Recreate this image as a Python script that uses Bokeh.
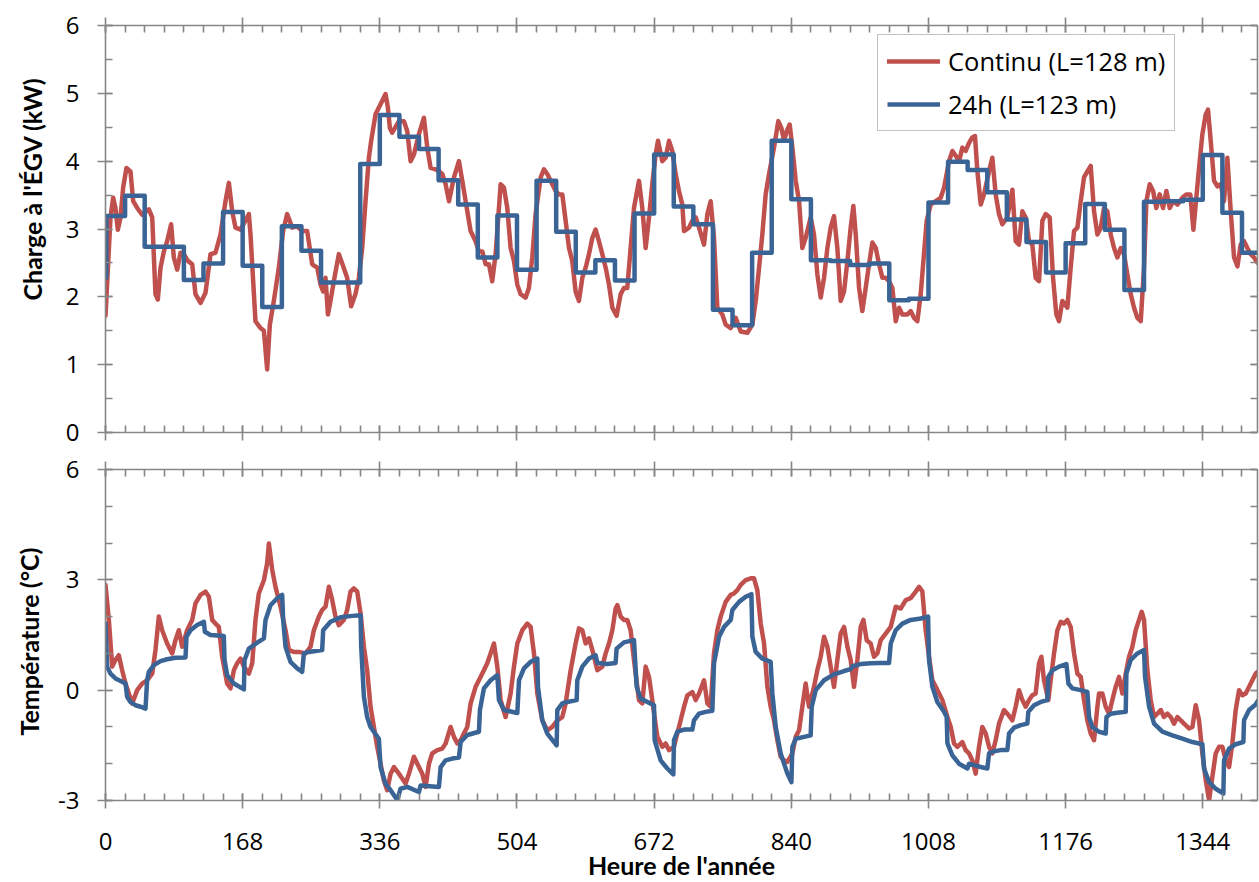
import math
from bokeh.plotting import figure
from bokeh.models import FixedTicker, LinearAxis, Range1d, Legend, LegendItem, Title
from bokeh.layouts import column
from bokeh.embed import file_html
from bokeh.resources import INLINE

# ---------------- data ----------------
x_major_ticks = [0, 168, 336, 504, 672, 840, 1008, 1176, 1344]
load_major_ticks = [0, 1, 2, 3, 4, 5, 6]
temp_major_ticks = [-3, 0, 3, 6]
temp_tick_labels = {-3: "-3", 0: "0", 3: "3", 6: "6"}

# Top panel: hourly load, continuous operation (red)
load_red_h = [0, 6.1, 9.4, 12.2, 15.1, 18.4, 21.6, 25.7, 30.6, 33.9, 38.8, 44.9, 53.1, 57.2, 61.2, 64.1, 67.4, 71.5, 75.5, 80.4,
              83.7, 87.8, 91.9, 96.0, 100.9, 106.2, 110.2, 116.4, 122.5, 128.6, 134.7, 140.9, 147.0, 151.1, 155.2, 159.2, 165.4,
              175.6, 177.6, 183.7, 189.9, 194.0, 198.0, 201.3, 206.2, 212.3, 217.6, 222.5, 228.7, 234.8, 240.9, 247.0, 253.2,
              259.3, 263.4, 266.6, 269.5, 272.4, 275.6, 279.7, 285.8, 291.1, 296.0, 300.9, 306.2, 310.3, 314.4, 318.5, 322.6,
              325.4, 330.7, 336.9, 343.0, 345.9, 348.3,
              351.2, 359.4, 365.5, 369.6, 373.7, 377.8, 383.9, 390.0, 394.1, 398.2, 404.3, 408.4, 412.5, 416.6, 420.7, 426.8,
              432.9, 437.0, 441.1, 447.2, 453.3, 457.4, 461.5, 465.6, 469.7, 473.7, 477.8, 484.0, 488.0, 492.1, 496.2, 500.3,
              504.4, 508.4, 514.6, 518.6, 522.7, 526.8, 533.0, 537.0, 541.1, 545.2, 551.3, 555.4, 559.5, 563.6, 567.7, 571.7,
              575.8, 579.9, 584.0, 588.1, 592.2, 596.3, 600.3, 604.4, 608.5, 612.6, 616.7, 620.8, 626.0, 631.0, 635.0, 639.1,
              643.2, 647.3, 653.4, 657.5, 661.6, 665.7, 669.7, 673.8, 676.7, 682.0, 686.1, 690.2, 694.2, 698.3, 702.4,
              706.5, 708.6, 714.7, 718.8, 722.9, 727.0, 733.1, 737.2, 741.2, 745.3, 749.4, 755.5, 759.6, 765.8, 771.9, 778.0,
              786.2, 792.3, 796.4, 800.5, 804.5, 808.6, 812.7, 818.8, 824.1, 827.8, 831.1, 834.3, 838.0, 841.3, 845.4, 849.5,
              853.5, 857.6, 863.7, 867.8, 871.9, 876.0, 880.1, 884.2, 888.2, 892.3, 896.4, 900.5, 904.6, 908.7, 912.7, 916.0,
              918.9, 923.0, 927.0, 931.1, 935.2, 939.3, 943.4, 947.5, 951.5, 955.6, 959.7, 963.8, 967.9, 972.0, 976.0, 982.2,
              986.2, 990.3, 994.4, 998.5, 1001.8, 1005.8, 1010.7, 1016.9, 1023.0, 1027.1, 1033.2, 1037.3, 1041.4, 1045.5,
              1049.5, 1053.6, 1057.7, 1061.7, 1065.0, 1067.9, 1072.0, 1076.0, 1082.2, 1086.2, 1090.3, 1094.4, 1098.5, 1104.6,
              1110.8, 1114.8, 1118.9, 1123.0, 1127.1, 1131.2, 1135.2, 1139.3, 1143.4, 1147.5, 1151.6, 1156.5, 1160.6, 1164.6,
              1167.9, 1172.0, 1178.1, 1182.2, 1186.3, 1190.4, 1194.5, 1198.5, 1202.6, 1206.7, 1210.8, 1214.9, 1219.0, 1223.0,
              1227.1, 1231.2, 1235.3, 1239.4, 1243.5, 1247.5, 1251.6, 1255.7, 1259.8, 1263.9, 1268.0, 1272.0, 1274.9, 1279.0,
              1283.1, 1287.1, 1291.2, 1295.3, 1299.4, 1303.5, 1307.6, 1312.9, 1319.0, 1323.8, 1328.7, 1332.5, 1335.3, 1339.4,
              1343.5, 1347.6, 1350.4, 1353.7, 1357.8, 1361.9, 1366.0, 1370.0, 1374.1, 1378.2, 1382.3, 1386.4, 1390.4, 1394.5,
              1398.6, 1402.7, 1406.8, 1411.0]
load_red_kw = [1.72, 3.17, 3.46, 3.31, 2.99, 3.17, 3.61, 3.90, 3.85, 3.41, 3.31, 3.21, 3.29, 3.17, 2.04, 1.96, 2.43, 2.67, 2.82, 3.07,
               2.58, 2.40, 2.65, 2.63, 2.53, 2.48, 2.04, 1.91, 2.06, 2.63, 2.65, 2.92, 3.41, 3.68, 3.26, 3.02, 2.99,
               3.22, 2.92, 1.64, 1.54, 1.50, 0.93, 1.59, 1.94, 2.43, 2.97, 3.22, 3.02, 3.04, 2.97, 2.97, 2.48,
               2.43, 2.18, 2.08, 2.28, 1.74, 1.94, 2.23, 2.63, 2.45, 2.28, 1.86, 2.04, 2.28, 2.72, 3.41, 4.05,
               4.30, 4.69, 4.84, 4.99, 4.79, 4.49,
               4.42, 4.59, 4.59, 4.44, 4.00, 4.10, 4.40, 4.64, 4.20, 3.90, 3.88, 3.85, 3.81, 3.66, 3.41, 3.76,
               4.00, 3.71, 3.41, 2.97, 2.82, 2.67, 2.67, 2.48, 2.48, 2.23, 2.63, 3.66, 3.61, 3.31, 2.72, 2.53,
               2.18, 2.04, 1.99, 2.13, 2.58, 3.22, 3.76, 3.88, 3.81, 3.71, 3.56, 3.51, 3.51, 3.12, 2.72, 2.53,
               2.08, 1.94, 2.28, 2.43, 2.63, 2.87, 2.99, 2.82, 2.63, 2.43, 2.18, 1.84, 1.72, 2.04, 2.13, 2.13,
               2.72, 3.31, 3.71, 3.31, 2.72, 3.17, 3.66, 4.10, 4.30, 4.00, 4.05, 4.30, 4.15, 3.81, 3.56,
               3.36, 2.97, 3.02, 3.12, 3.17, 3.02, 2.77, 3.22, 3.41, 2.87, 1.84, 1.74, 1.59, 1.54, 1.69, 1.49,
               1.47, 1.59, 1.94, 2.43, 2.92, 3.51, 3.81, 4.20, 4.59, 4.49, 4.30, 4.44, 4.54, 4.20, 3.71, 3.41,
               2.72, 2.87, 3.17, 2.92, 2.33, 1.99, 2.28, 2.72, 3.02, 3.19, 2.72, 1.94, 2.08, 2.53, 3.02, 3.34,
               2.92, 2.13, 1.79, 2.13, 2.48, 2.80, 2.72, 2.48, 2.28, 2.28, 2.23, 2.13, 1.64, 1.84, 1.74, 1.74,
               1.79, 1.69, 1.64, 2.04, 2.53, 3.12, 3.36, 3.41, 3.46, 3.61, 4.00, 4.15, 4.08, 4.00,
               4.20, 4.15, 4.27, 4.35, 4.37, 3.85, 3.36, 3.51, 3.85, 4.05, 3.51, 3.22, 3.07, 3.17,
               3.58, 2.82, 2.77, 3.26, 3.17, 2.82, 2.77, 2.28, 2.23, 3.12, 3.22, 3.17, 2.28, 1.74,
               1.64, 1.94, 1.84, 2.43, 2.97, 3.02, 3.41, 3.76, 3.85, 3.93, 3.26, 2.92, 3.02, 3.31,
               3.26, 2.92, 2.72, 2.58, 2.72, 2.63, 2.33, 2.04, 1.84, 1.69, 1.64, 2.43, 3.41, 3.66,
               3.56, 3.31, 3.51, 3.31, 3.56, 3.31, 3.41, 3.36, 3.46, 3.51, 3.51, 2.99, 3.36, 3.90,
               4.40, 4.69, 4.76, 4.30, 3.71, 3.63, 3.66, 3.41, 4.05, 3.26, 2.58, 2.45, 2.77, 2.82,
               2.72, 2.63, 2.58, 2.50]

# Top panel: daily (24h) load (blue), one value per day, plus the first hour
load_blue_first_kw = 2.28
load_blue_daily_kw = [3.19, 3.49, 2.74, 2.74, 2.25, 2.49, 3.25, 2.46, 1.85, 3.04,
                      2.68, 2.21, 2.21, 3.96, 4.68, 4.36, 4.18, 3.72, 3.36, 2.58,
                      3.20, 2.40, 3.71, 2.96, 2.36, 2.54, 2.24, 3.23, 4.10, 3.33,
                      3.07, 1.81, 1.58, 2.65, 4.30, 3.44, 2.54, 2.53, 2.47, 2.49,
                      1.95, 1.97, 3.39, 3.99, 3.87, 3.54, 3.14, 2.81, 2.36, 2.79,
                      3.37, 2.99, 2.10, 3.40, 3.41, 3.43, 4.09, 3.24, 2.65]

# Bottom panel: temperature, continuous (red)
temp_red_h = [0, 4.1, 8.2, 12.2, 16.3, 20.4, 24.5, 28.6, 32.7, 38.8, 44.9, 51.0, 57.2, 61.2, 65.3, 69.4, 75.5, 81.7, 85.7, 89.8,
              93.9, 100.0, 106.2, 110.2, 116.4, 122.5, 126.6, 130.7, 134.7, 138.8, 142.9, 149.0, 153.1, 157.2, 161.3, 165.4,
              169.5, 175.6, 179.7, 183.7, 187.8, 194.0, 198.0, 200.1, 204.2, 208.2, 214.4, 220.5, 224.6, 230.7, 236.8, 245.0,
              251.1, 255.2, 261.3, 265.4, 269.5, 273.6, 277.7, 281.7, 285.8, 292.0, 296.0, 300.1, 304.2, 308.3, 312.4, 316.5,
              320.5, 324.6, 328.7, 332.8, 336.9, 340.9, 345.0,
              349.2, 353.3, 359.4, 367.6, 371.7, 377.8, 381.9, 388.0, 392.1, 396.2, 400.2, 406.4, 412.5, 416.6, 422.7, 426.8,
              430.9, 435.0, 439.0, 443.1, 447.2, 453.3, 457.4, 463.5, 467.6, 471.7, 475.8, 479.9, 484.0, 490.1, 496.2, 500.3,
              504.4, 510.5, 516.6, 520.7, 524.8, 528.9, 535.0, 541.1, 547.2, 553.4, 559.5, 563.6, 569.7, 575.8, 579.9, 584.0,
              588.1, 592.2, 596.3, 602.4, 608.5, 612.6, 616.7, 620.8, 624.8, 626.9, 631.0, 635.0, 639.1, 643.2, 647.3, 653.4,
              657.5, 661.6, 665.7, 669.7, 675.9, 682.0, 686.1, 690.2, 696.3, 702.4,
              708.6, 712.7, 718.8, 722.9, 727.0, 733.1, 737.2, 741.2, 745.3, 749.4, 753.5, 759.6, 765.8, 769.8, 773.9, 778.0,
              784.1, 790.3, 794.3, 798.4, 802.5, 806.6, 810.7, 814.7, 818.8, 822.9, 827.0, 831.1, 835.2, 841.3, 845.4, 849.5,
              853.5, 857.6, 861.7, 867.8, 871.9, 876.0, 880.1, 884.2, 888.2, 892.3, 896.4, 900.5, 904.6, 908.7, 912.7, 916.8,
              920.9, 925.0, 928.3, 932.3, 937.2, 941.3, 945.4, 949.5, 955.6, 961.8, 967.9, 974.0, 980.1, 986.2, 992.4, 996.5,
              1000.5, 1004.6, 1008.7, 1012.8, 1016.9, 1021.0, 1025.0, 1031.2, 1035.3, 1039.3, 1043.4,
              1049.5, 1053.6, 1057.7, 1061.8, 1065.8, 1069.9, 1074.0, 1078.1, 1082.2, 1086.2, 1090.3, 1094.4, 1100.5, 1104.6,
              1110.8, 1114.8, 1118.9, 1123.0, 1127.1, 1131.2, 1135.2, 1139.3, 1143.4, 1146.3, 1149.5, 1154.8, 1157.7, 1161.8,
              1165.9, 1170.0, 1174.0, 1178.1, 1182.2, 1186.3, 1190.4, 1194.5, 1198.5, 1202.6, 1206.7, 1210.8, 1214.9, 1216.9,
              1221.0, 1225.1, 1229.2, 1233.2, 1237.3, 1241.4, 1245.5, 1249.6, 1253.7, 1257.7, 1261.8, 1265.9, 1269.2, 1272.0,
              1276.1, 1280.2, 1284.3, 1288.4, 1292.5, 1296.5, 1300.6, 1304.7, 1308.8, 1312.9, 1317.0, 1321.0, 1327.2, 1331.3,
              1335.3, 1339.4, 1343.5, 1347.6, 1351.7, 1355.7, 1359.8, 1363.9, 1368.0, 1372.1, 1376.2, 1380.2, 1384.3, 1388.4,
              1392.5, 1396.6, 1400.7, 1404.7, 1408.8, 1411.0]
temp_red_c = [2.86, 1.91, 0.64, 0.82, 0.95, 0.54, 0.18, -0.09, -0.36, 0.00, 0.18, 0.27, 0.45, 1.09, 2.00, 1.63, 1.27, 1.00, 1.36, 1.63,
              1.18, 1.63, 1.91, 2.36, 2.59, 2.68, 2.54, 1.91, 1.81, 1.72, 0.91, 0.18, 0.05, 0.54, 0.73, 0.86,
              0.64, 0.45, 0.73, 1.91, 2.63, 2.99, 3.45, 3.99, 3.27, 2.81, 2.27, 1.63, 1.09, 1.04, 1.04, 1.00,
              1.18, 1.63, 2.00, 2.18, 2.27, 2.81, 2.45, 2.00, 1.77, 1.91, 2.18, 2.68, 2.77, 2.68, 2.09, 1.18,
              0.54, -0.45, -1.00, -1.54, -2.00, -2.45, -2.72,
              -2.27, -2.09, -2.27, -2.54, -2.27, -1.81, -2.00, -2.27, -2.63, -2.00, -1.72, -1.63, -1.59, -1.45, -1.00, -1.27,
              -1.45, -1.36, -1.18, -1.00, -0.36, 0.09, 0.27, 0.54, 0.73, 1.00, 1.27, 0.64, -0.27, -0.73, -0.09, 0.64,
              1.27, 1.63, 1.81, 1.72, 1.00, -0.09, -0.82, -1.09, -1.00, -0.82, -0.73, -0.36, 0.54, 1.27, 1.68, 1.63,
              1.27, 1.41, 1.09, 0.54, 0.64, 1.00, 1.27, 1.63, 2.22, 2.31, 2.00, 1.91, 1.91, 1.63, 0.82, -0.27,
              -0.36, 0.64, 0.36, -0.27, -1.27, -1.54, -1.45, -1.63, -1.54, -1.00,
              -0.45, -0.14, -0.05, -0.27, -0.09, 0.27, -0.36, -0.45, 1.00, 1.63, 2.00, 2.40, 2.59, 2.63, 2.72, 2.86,
              2.99, 3.04, 3.04, 2.72, 1.81, 1.27, 0.09, -0.45, -0.82, -1.36, -1.81, -1.91, -1.95, -1.72, -1.27, -1.09,
              -0.45, 0.18, -0.45, 0.09, 0.54, 0.91, 1.45, 1.18, 0.64, 0.09, 0.82, 1.54, 1.72, 1.18, 0.82, 0.09,
              0.82, 1.72, 1.91, 1.36, 1.27, 0.91, 1.00, 1.36, 1.54, 1.72, 2.27, 2.22, 2.45, 2.50, 2.68, 2.81,
              2.68, 1.63, 0.91, 0.27, 0.09, -0.09, -0.27, -0.73, -1.00, -1.45, -1.54,
              -1.41, -1.63, -1.72, -1.91, -2.27, -1.54, -1.00, -1.18, -1.54, -1.72, -1.36, -0.91, -0.54, -0.64,
              -0.82, -0.45, 0.00, -0.27, -0.45, -0.27, -0.14, -0.09, 0.73, 0.91, 0.27, -0.27, 0.27, 1.00,
              1.63, 1.86, 1.81, 1.91, 1.72, 1.00, 0.45, 0.36, -0.27, -0.82, -1.18, -1.36, -0.45, -0.09,
              -0.09, -0.45, -0.64, -0.27, 0.09, 0.36, -0.09, 0.45, 0.91, 1.18, 1.63, 1.91, 2.13, 1.91,
              0.54, -0.27, -0.73, -0.64, -0.54, -0.73, -0.64, -0.73, -0.91, -0.73, -0.82, -0.91, -1.04, -1.00,
              -0.41, -0.82, -1.72, -2.45, -2.99, -2.36, -1.72, -1.54, -1.54, -1.91, -2.09, -1.45, -0.54, 0.00,
              -0.14, -0.09, 0.09, 0.27, 0.45, 0.50]

# Bottom panel: temperature, 24h operation (blue)
temp_blue_h = [0, 2.0, 6.1, 12.2, 20.4, 24.5, 26.5, 30.6, 36.7, 42.9, 49.0, 51.0, 53.1, 59.2, 67.4, 75.5, 85.7, 98.0, 99.2, 104.1,
               112.3, 120.5, 121.7, 128.6, 144.9, 145.8, 149.0, 157.2, 169.5, 170.3, 175.6, 185.8, 194.0, 196.0, 202.1, 210.3,
               216.4, 217.6, 220.5, 226.6, 234.8, 240.9, 243.0, 249.1, 265.4, 266.6, 275.6, 287.9, 302.2, 312.4, 313.2, 316.5,
               320.5, 324.6, 334.8, 336.9, 343.0,
               349.2, 357.4, 361.4, 369.6, 383.9, 386.0, 408.4, 410.5, 416.6, 424.7, 432.9, 435.0, 443.1, 457.4, 458.6, 463.5,
               471.7, 479.9, 481.9, 488.0, 504.4, 506.5, 512.5, 520.7, 528.9, 529.7, 535.0, 541.1, 552.6, 553.4, 559.5, 565.6,
               577.1, 577.9, 584.0, 592.2, 600.3, 602.4, 614.6, 624.8, 626.0, 635.0, 647.3, 650.6, 655.5, 671.8, 672.6, 680.0,
               688.1, 695.5, 696.3, 700.4, 708.5,
               718.8, 720.8, 727.0, 735.1, 743.3, 745.3, 751.5, 757.6, 765.8, 767.8, 776.0, 784.1, 791.1, 792.3, 796.4, 804.5,
               814.7, 816.8, 820.9, 827.0, 835.2, 840.1, 841.3, 845.4, 855.6, 863.7, 865.0, 869.9, 880.1, 892.3, 904.6, 912.7,
               914.8, 925.0, 937.2, 949.5, 959.7, 961.8, 967.9, 976.0, 986.2, 998.5, 1007.5, 1008.7, 1012.8, 1018.9, 1027.1,
               1030.3, 1031.2, 1037.3, 1045.4, 1055.7,
               1057.7, 1063.8, 1072.0, 1080.1, 1082.2, 1088.3, 1096.5, 1104.6, 1106.7, 1112.8, 1121.0, 1129.1, 1130.3, 1137.3,
               1145.5, 1153.6, 1154.8, 1159.8, 1168.0, 1176.9, 1179.4, 1184.2, 1194.5, 1202.6, 1204.7, 1208.7, 1216.9, 1225.1,
               1226.0, 1231.2, 1241.4, 1249.6, 1250.4, 1255.7, 1263.9, 1272.0, 1273.3, 1278.2, 1284.3, 1294.5, 1306.7, 1319.0,
               1331.3, 1343.5, 1345.5, 1351.7, 1359.8, 1369.2, 1370.0, 1376.2, 1384.3, 1393.7, 1394.5, 1400.7, 1408.8, 1411.0]
temp_blue_c = [1.81, 0.64, 0.45, 0.32, 0.23, 0.18, -0.18, -0.32, -0.41, -0.45, -0.50, 0.27, 0.50, 0.68, 0.79, 0.84, 0.88, 0.89, 1.45, 1.63,
               1.77, 1.86, 1.59, 1.50, 1.47, 0.82, 0.41, 0.18, 0.02, 0.82, 1.13, 1.29, 1.41, 1.91, 2.31, 2.50,
               2.59, 1.91, 1.18, 0.77, 0.59, 0.50, 1.00, 1.04, 1.09, 1.63, 1.86, 1.98, 2.02, 2.04, 1.18, -0.18,
               -0.73, -1.00, -1.32, -2.09, -2.54,
               -2.72, -2.99, -2.68, -2.63, -2.77, -2.59, -2.63, -2.09, -1.91, -1.86, -1.83, -1.41, -1.22, -1.13, -0.54, 0.05,
               0.27, 0.41, -0.27, -0.54, -0.62, 0.27, 0.59, 0.77, 0.86, 0.09, -0.82, -1.18, -1.50, -0.54, -0.36, -0.32,
               -0.27, 0.27, 0.64, 0.86, 0.95, 0.74, 0.71, 0.74, 1.13, 1.30, 1.36, 0.09, -0.23, -0.41, -1.36, -1.91,
               -2.13, -2.29, -1.36, -1.13, -1.07,
               -1.07, -0.82, -0.64, -0.59, -0.56, 0.73, 1.45, 1.72, 1.91, 2.18, 2.40, 2.54, 2.61, 1.45, 1.04, 0.86,
               0.77, -0.09, -1.00, -1.72, -2.27, -2.50, -1.54, -1.32, -1.27, -1.23, -0.45, 0.00, 0.27, 0.43, 0.52, 0.57,
               0.65, 0.71, 0.73, 0.74, 0.74, 1.27, 1.63, 1.81, 1.91, 1.95, 2.00, 0.82, 0.09, -0.32, -0.59,
               -0.73, -1.45, -1.77, -2.00, -2.13,
               -2.00, -2.04, -2.09, -2.13, -1.72, -1.66, -1.63, -1.63, -1.18, -1.02, -0.95, -0.91, -0.59, -0.41,
               -0.32, -0.27, 0.36, 0.54, 0.64, 0.71, 0.18, 0.05, 0.00, -0.05, -0.73, -1.00, -1.13, -1.18,
               -0.73, -0.64, -0.61, -0.59, 0.45, 0.82, 1.00, 1.09, 0.36, -0.45, -0.91, -1.13, -1.23, -1.32,
               -1.41, -1.47, -2.13, -2.50, -2.68, -2.81, -1.91, -1.59, -1.47, -1.41, -0.82, -0.54, -0.39, -0.30]

# ---------------- style ----------------
X_END = 1411
GRAY = "#868686"
RED = "#C0504D"
BLUE = "#3A6496"
TICK_FONT = "Open Sans"
TITLE_FONT = "Lato"
TICK_SIZE = "24px"
TITLE_SIZE = "25px"

x_ticker = FixedTicker(ticks=x_major_ticks, minor_ticks=list(range(0, X_END + 1, 24)))
load_ticker = FixedTicker(ticks=load_major_ticks, minor_ticks=[v / 2 for v in range(0, 13)])
temp_ticker = FixedTicker(ticks=temp_major_ticks, minor_ticks=list(range(-3, 7)))


def make_axis(ticker, labels, tick_out=8, tick_in=7):
    ax = LinearAxis(ticker=ticker)
    ax.axis_line_color = GRAY
    ax.axis_line_width = 1.6
    ax.major_tick_line_color = GRAY
    ax.major_tick_line_width = 1.6
    ax.minor_tick_line_color = GRAY
    ax.minor_tick_line_width = 1.6
    ax.major_tick_in = tick_in
    ax.major_tick_out = tick_out
    ax.minor_tick_in = tick_in
    ax.minor_tick_out = 0
    if labels:
        ax.major_label_text_font = TICK_FONT
        ax.major_label_text_font_size = TICK_SIZE
        ax.major_label_text_color = "black"
    else:
        ax.major_label_text_font_size = "1px"
        ax.major_label_text_color = None
        ax.major_label_standoff = 0
    return ax


def make_fig(height, y_range, top, bottom):
    p = figure(width=1259, height=height, x_range=Range1d(0, X_END), y_range=y_range,
               output_backend="svg", toolbar_location=None,
               x_axis_location=None, y_axis_location=None,
               min_border_left=105, min_border_right=2, min_border_top=top, min_border_bottom=bottom)
    p.xgrid.visible = False
    p.ygrid.visible = False
    p.outline_line_color = None
    p.background_fill_color = "white"
    p.border_fill_color = "white"
    return p


def side_title(text, offset, standoff):
    return Title(text=text, align="left", vertical_align="top", offset=offset, standoff=standoff,
                 text_font=TITLE_FONT, text_font_style="bold", text_font_size=TITLE_SIZE,
                 text_color="black")


# ---------------- top panel ----------------
p1 = make_fig(450, Range1d(0, 6), 25, 18)
r_red = p1.line(load_red_h, load_red_kw, line_color=RED, line_width=4.5, line_join="round", line_cap="round")
blue_x = [0, 1] + [24 * d for d in range(1, len(load_blue_daily_kw))] + [X_END]
blue_y = [load_blue_first_kw] + load_blue_daily_kw + [load_blue_daily_kw[-1]]
r_blue = p1.step(blue_x, blue_y, mode="after", line_color=BLUE, line_width=4.5, line_join="round")

ax = make_axis(load_ticker, True)
ax.major_label_standoff = 18
p1.add_layout(ax, "left")
p1.add_layout(side_title("Charge à l'ÉGV (kW)", 132, 28), "left")
p1.add_layout(make_axis(load_ticker, False, tick_out=0), "right")
p1.add_layout(make_axis(x_ticker, False), "above")
p1.add_layout(make_axis(x_ticker, False), "below")

legend = Legend(items=[LegendItem(label="Continu (L=128 m)", renderers=[r_red]),
                       LegendItem(label="24h (L=123 m)", renderers=[r_blue])],
                location=(772, 301), orientation="vertical")
legend.border_line_color = GRAY
legend.border_line_width = 1.6
legend.background_fill_color = "white"
legend.background_fill_alpha = 1
legend.label_text_font = TICK_FONT
legend.label_text_font_size = "25.5px"
legend.label_text_color = "black"
legend.glyph_width = 53
legend.label_standoff = 8
legend.padding = 9
legend.spacing = 9
legend.margin = 0
p1.add_layout(legend)

# ---------------- bottom panel ----------------
p2 = make_fig(432, Range1d(-3, 6), 19, 82)
p2.line(temp_red_h, temp_red_c, line_color=RED, line_width=4.5, line_join="round", line_cap="round")
p2.line(temp_blue_h, temp_blue_c, line_color=BLUE, line_width=4.5, line_join="round", line_cap="round")

ax = make_axis(temp_ticker, True)
ax.major_label_standoff = 18
ax.major_label_overrides = temp_tick_labels
p2.add_layout(ax, "left")
p2.add_layout(side_title("Température (°C)", 65, 20), "left")
p2.add_layout(make_axis(temp_ticker, False, tick_out=0), "right")
p2.add_layout(make_axis(x_ticker, False), "above")
xb = make_axis(x_ticker, True)
xb.major_label_standoff = 24
xb.axis_label = "Heure de l'année"
xb.axis_label_text_font = TITLE_FONT
xb.axis_label_text_font_style = "bold"
xb.axis_label_text_font_size = TITLE_SIZE
xb.axis_label_text_color = "black"
xb.axis_label_standoff = -3
p2.add_layout(xb, "below")

layout = column(p1, p2, spacing=0)
open("out.html", "w").write(file_html(layout, INLINE))
